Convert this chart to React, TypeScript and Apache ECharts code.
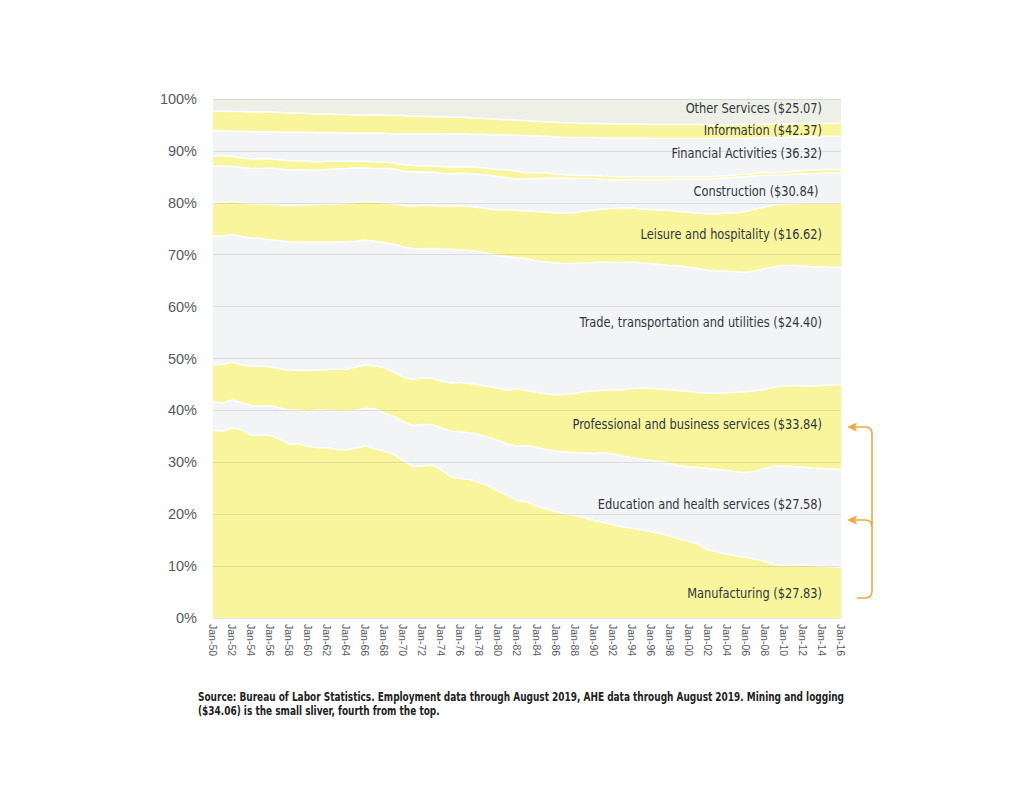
import React, { useEffect, useRef } from "react";
import * as echarts from "echarts";

// Category (tick) labels, one per year
const categories = [
  "Jan-50","Jan-51","Jan-52","Jan-53","Jan-54","Jan-55","Jan-56","Jan-57","Jan-58","Jan-59",
  "Jan-60","Jan-61","Jan-62","Jan-63","Jan-64","Jan-65","Jan-66","Jan-67","Jan-68","Jan-69",
  "Jan-70","Jan-71","Jan-72","Jan-73","Jan-74","Jan-75","Jan-76","Jan-77","Jan-78","Jan-79",
  "Jan-80","Jan-81","Jan-82","Jan-83","Jan-84","Jan-85","Jan-86","Jan-87","Jan-88","Jan-89",
  "Jan-90","Jan-91","Jan-92","Jan-93","Jan-94","Jan-95","Jan-96","Jan-97","Jan-98","Jan-99",
  "Jan-00","Jan-01","Jan-02","Jan-03","Jan-04","Jan-05","Jan-06","Jan-07","Jan-08","Jan-09",
  "Jan-10","Jan-11","Jan-12","Jan-13","Jan-14","Jan-15","Jan-16"
];

// Cumulative upper edge (% of employment) of each sector band, stacked from the bottom
const manufacturingTop = [
  36.2,36.0,36.6,36.3,35.2,35.3,35.2,34.5,33.5,33.6,
  33.1,32.8,32.8,32.5,32.4,32.7,33.2,32.6,32.2,31.5,
  30.3,29.2,29.3,29.5,28.6,27.2,26.9,26.7,26.1,25.4,
  24.4,23.6,22.6,22.4,21.6,21.0,20.5,20.1,19.8,19.3,
  18.8,18.4,18.0,17.6,17.3,17.0,16.6,16.3,15.8,15.2,
  14.8,14.2,13.2,12.7,12.3,12.0,11.7,11.3,10.9,10.3,
  10.1,10.2,10.2,10.1,10.0,9.9,9.8
];
const educationTop = [
  41.7,41.4,42.0,41.5,40.9,40.8,40.9,40.5,40.1,40.0,
  39.8,40.1,40.0,39.9,39.8,40.0,40.4,40.3,39.5,38.8,
  37.8,37.1,37.3,37.3,36.6,36.0,35.9,35.7,35.3,34.8,
  34.2,33.5,33.1,33.2,32.9,32.4,32.2,32.0,31.9,31.8,
  31.7,31.9,31.6,31.2,30.9,30.6,30.4,30.1,29.8,29.3,
  29.1,29.0,28.8,28.6,28.4,28.2,28.0,28.3,28.8,29.3,
  29.3,29.2,29.1,28.9,28.8,28.7,28.6
];
const professionalTop = [
  48.8,48.9,49.3,48.8,48.5,48.5,48.4,48.0,47.7,47.8,
  47.7,47.8,47.9,48.0,47.9,48.3,48.8,48.6,48.2,47.4,
  46.4,46.0,46.3,46.2,45.6,45.3,45.4,45.2,44.9,44.6,
  44.3,43.9,44.2,43.8,43.5,43.2,43.0,43.1,43.3,43.6,
  43.8,43.9,44.0,44.0,44.2,44.3,44.3,44.1,44.0,43.8,
  43.7,43.4,43.3,43.3,43.4,43.5,43.6,43.8,44.0,44.5,
  44.7,44.8,44.7,44.7,44.8,44.9,45.0
];
const tradeTop = [
  73.5,73.6,73.9,73.5,73.2,73.1,72.9,72.7,72.5,72.4,
  72.4,72.4,72.4,72.4,72.5,72.6,72.8,72.6,72.3,72.0,
  71.5,71.2,71.1,71.2,71.1,71.0,70.9,70.8,70.6,70.2,
  69.8,69.6,69.4,69.2,68.8,68.6,68.4,68.3,68.3,68.4,
  68.5,68.6,68.5,68.5,68.6,68.4,68.3,68.1,67.9,67.8,
  67.6,67.3,67.0,66.9,66.8,66.7,66.6,66.9,67.3,67.7,
  67.9,67.9,67.8,67.7,67.7,67.6,67.6
];
const leisureTop = [
  80.0,80.1,80.3,80.0,79.8,79.8,79.7,79.6,79.5,79.6,
  79.6,79.7,79.7,79.8,79.9,80.1,80.3,80.2,80.0,79.8,
  79.5,79.4,79.5,79.5,79.4,79.5,79.4,79.3,79.1,78.8,
  78.6,78.7,78.5,78.4,78.3,78.2,78.1,78.0,78.1,78.4,
  78.6,78.8,78.9,79.0,79.0,78.8,78.7,78.6,78.5,78.3,
  78.2,78.0,77.9,77.9,78.0,78.1,78.3,78.8,79.2,79.6,
  79.8,79.8,79.9,79.9,80.0,80.0,80.0
];
const constructionTop = [
  87.0,87.1,87.0,86.8,86.6,86.6,86.7,86.5,86.3,86.4,
  86.3,86.3,86.4,86.5,86.6,86.7,86.7,86.6,86.6,86.5,
  86.1,86.0,85.9,85.9,85.7,85.6,85.7,85.6,85.5,85.3,
  85.0,84.8,84.6,84.6,84.7,84.8,84.8,84.8,84.7,84.7,
  84.7,84.5,84.4,84.4,84.5,84.5,84.5,84.5,84.5,84.6,
  84.6,84.6,84.6,84.7,84.8,84.9,85.0,85.2,85.3,85.3,
  85.4,85.5,85.6,85.6,85.7,85.8,85.8
];
const miningTop = [
  89.0,89.1,88.9,88.7,88.5,88.5,88.5,88.3,88.1,88.1,
  88.0,87.9,88.0,88.0,88.0,88.0,88.0,87.9,87.8,87.7,
  87.4,87.2,87.1,87.1,87.0,86.9,86.9,86.9,86.8,86.6,
  86.4,86.3,86.1,85.8,85.8,85.8,85.5,85.4,85.3,85.3,
  85.3,85.1,85.0,85.0,85.0,85.0,85.0,85.0,85.0,85.0,
  85.0,85.0,85.0,85.1,85.2,85.4,85.5,85.7,85.9,85.8,
  85.9,86.1,86.2,86.3,86.4,86.4,86.4
];
const financialTop = [
  93.8,93.9,93.8,93.8,93.7,93.7,93.7,93.6,93.6,93.6,
  93.6,93.5,93.5,93.5,93.4,93.4,93.4,93.4,93.4,93.3,
  93.3,93.3,93.3,93.3,93.3,93.3,93.3,93.2,93.2,93.1,
  93.1,93.0,93.0,92.9,92.9,92.8,92.7,92.6,92.6,92.6,
  92.6,92.5,92.5,92.5,92.5,92.5,92.4,92.4,92.4,92.4,
  92.4,92.4,92.4,92.4,92.4,92.4,92.4,92.5,92.6,92.6,
  92.6,92.7,92.7,92.7,92.8,92.8,92.8
];
const informationTop = [
  97.6,97.7,97.6,97.6,97.5,97.5,97.5,97.4,97.3,97.3,
  97.2,97.1,97.1,97.0,97.0,96.9,96.9,96.9,96.9,96.8,
  96.8,96.7,96.7,96.6,96.6,96.5,96.5,96.4,96.3,96.2,
  96.1,96.0,95.9,95.8,95.7,95.6,95.5,95.4,95.4,95.3,
  95.3,95.3,95.2,95.2,95.2,95.2,95.1,95.1,95.1,95.1,
  95.1,95.1,95.0,95.0,95.0,95.1,95.1,95.1,95.2,95.2,
  95.2,95.3,95.3,95.3,95.3,95.3,95.4
];
const otherServicesTop = [
  100,100,100,100,100,100,100,100,100,100,
  100,100,100,100,100,100,100,100,100,100,
  100,100,100,100,100,100,100,100,100,100,
  100,100,100,100,100,100,100,100,100,100,
  100,100,100,100,100,100,100,100,100,100,
  100,100,100,100,100,100,100,100,100,100,
  100,100,100,100,100,100,100
];

const yTicks = [0, 10, 20, 30, 40, 50, 60, 70, 80, 90, 100];

const sectorLabels = [
  { text: "Other Services ($25.07)", y: 108 },
  { text: "Information ($42.37)", y: 130 },
  { text: "Financial Activities (36.32)", y: 153 },
  { text: "Construction ($30.84) ", y: 191 },
  { text: "Leisure and hospitality ($16.62)", y: 234 },
  { text: "Trade, transportation and utilities ($24.40)", y: 322 },
  { text: "Professional and business services ($33.84)", y: 424 },
  { text: "Education and health services ($27.58)", y: 504 },
  { text: "Manufacturing ($27.83)", y: 593 },
];

const sourceLines = [
  "Source: Bureau of Labor Statistics. Employment data through August 2019, AHE data through August 2019. Mining and logging",
  "($34.06) is the small sliver, fourth from the top.",
];

const YELLOW = "#F9F59C";
const GRAY = "#F2F4F5";
const TOP_GRAY = "#EEF0E8";
const ORANGE = "#F0A640";
const NARROW = '"DejaVu Sans Condensed", "Liberation Sans Narrow", sans-serif';

const bands = [
  { name: "Other Services", data: otherServicesTop, color: TOP_GRAY, line: 0 },
  { name: "Information", data: informationTop, color: YELLOW, line: 1.5 },
  { name: "Financial Activities", data: financialTop, color: GRAY, line: 1.5 },
  { name: "Mining and logging", data: miningTop, color: YELLOW, line: 1.5 },
  { name: "Construction", data: constructionTop, color: GRAY, line: 1.5 },
  { name: "Leisure and hospitality", data: leisureTop, color: YELLOW, line: 1.5 },
  { name: "Trade, transportation and utilities", data: tradeTop, color: GRAY, line: 1.5 },
  { name: "Professional and business services", data: professionalTop, color: YELLOW, line: 1.5 },
  { name: "Education and health services", data: educationTop, color: GRAY, line: 1.5 },
  { name: "Manufacturing", data: manufacturingTop, color: YELLOW, line: 1.5 },
];

let registered = false;
function registerShapes() {
  if (registered) return;
  registered = true;
  const bracket =
    "M857 598 L865 598 Q872 598 872 591 L872 434 Q872 427 865 427 L852 427 " +
    "M872 527 Q872 520 865 520 L852 520";
  echarts.graphic.registerShape("bracket", echarts.graphic.extendPath(bracket, {}));
}

export default function App() {
  const ref = useRef<HTMLDivElement>(null);

  useEffect(() => {
    if (!ref.current) return;
    registerShapes();
    const chart = echarts.init(ref.current, null, { renderer: "svg" });

    const graphics: any[] = [];
    sectorLabels.forEach((l) => {
      graphics.push({
        type: "text",
        x: 822,
        y: l.y,
        scaleX: 0.905,
        z: 100,
        style: {
          text: l.text,
          textAlign: "right",
          align: "right",
          textVerticalAlign: "middle",
          verticalAlign: "middle",
          fontSize: 14,
          fontFamily: NARROW,
          fill: "#2F3742",
        },
      });
    });
    sourceLines.forEach((t, i) => {
      graphics.push({
        type: "text",
        x: 198,
        y: 697 + i * 14,
        scaleX: 0.845,
        z: 100,
        style: {
          text: t,
          textAlign: "left",
          align: "left",
          textVerticalAlign: "middle",
          verticalAlign: "middle",
          fontSize: 11.8,
          fontWeight: "bold",
          fontFamily: NARROW,
          fill: "#222222",
        },
      });
    });
    graphics.push({
      type: "bracket",
      x: 0,
      y: 0,
      scaleX: 1,
      scaleY: 1,
      z: 100,
      style: { stroke: ORANGE, lineWidth: 1.6, fill: "none" },
    });
    graphics.push({
      type: "polygon",
      z: 100,
      shape: { points: [[847, 427], [857, 422.5], [855, 427], [857, 431.5]] },
      style: { fill: ORANGE },
    });
    graphics.push({
      type: "polygon",
      z: 100,
      shape: { points: [[847, 520], [857, 515.5], [855, 520], [857, 524.5]] },
      style: { fill: ORANGE },
    });

    chart.setOption({
      animation: false,
      backgroundColor: "#FFFFFF",
      grid: { left: 213, right: 183, top: 99, bottom: 173, containLabel: false },
      xAxis: {
        type: "category",
        data: categories,
        boundaryGap: false,
        axisLine: { show: false },
        axisTick: { show: false },
        axisLabel: {
          interval: 1,
          rotate: -90,
          margin: 6,
          fontSize: 10.5,
          color: "#555A60",
          fontFamily: '"Liberation Sans", Arial, sans-serif',
        },
        splitLine: { show: false },
      },
      yAxis: {
        type: "value",
        min: yTicks[0],
        max: yTicks[yTicks.length - 1],
        interval: 10,
        z: 5,
        axisLine: { show: false },
        axisTick: { show: false },
        axisLabel: {
          formatter: "{value}%",
          margin: 16,
          fontSize: 14.5,
          color: "#555A60",
          fontFamily: '"Liberation Sans", Arial, sans-serif',
        },
        splitLine: { show: true, lineStyle: { color: "rgba(140,150,160,0.25)", width: 1 } },
      },
      series: bands.map((b) => ({
        name: b.name,
        type: "line",
        data: b.data,
        showSymbol: false,
        symbol: "none",
        smooth: false,
        z: 2,
        lineStyle: { color: "#FFFFFF", width: b.line, opacity: b.line ? 1 : 0 },
        areaStyle: { color: b.color, opacity: 1, origin: "start" },
        emphasis: { disabled: true },
      })),
      graphic: graphics,
    });

    return () => chart.dispose();
  }, []);

  return (
    <div
      ref={ref}
      style={{ position: "fixed", left: 0, top: 0, width: 1024, height: 791, background: "#fff" }}
    />
  );
}
